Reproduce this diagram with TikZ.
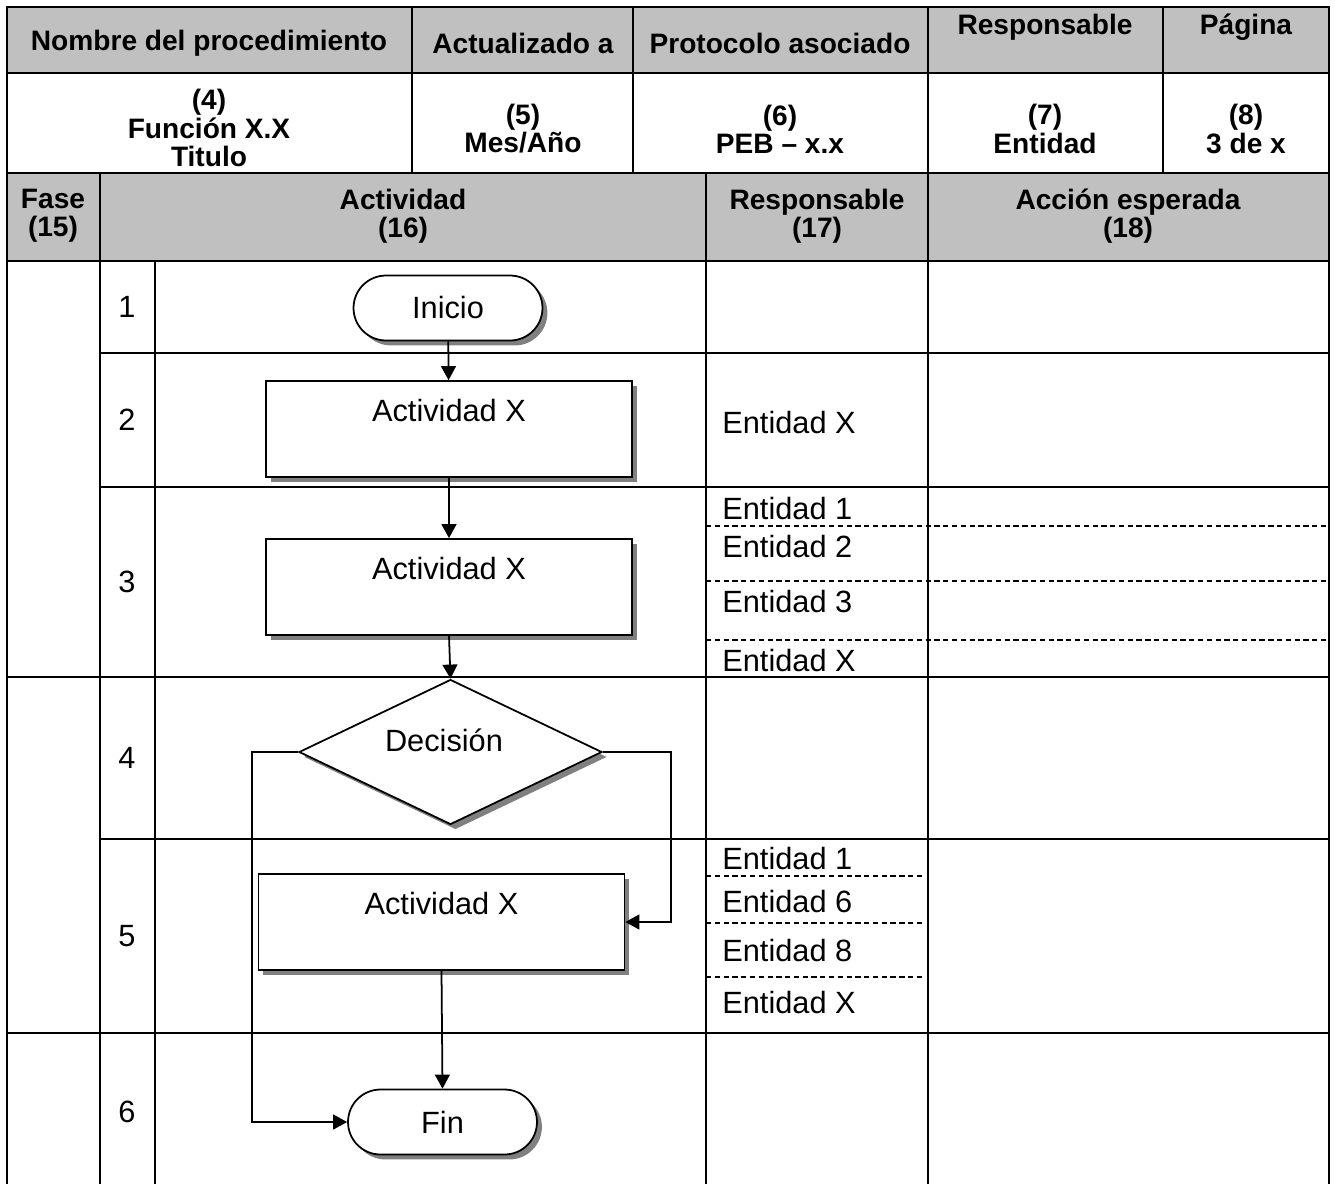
\documentclass[tikz,border=0pt]{standalone}
\usepackage{fontspec}
\setmainfont{Liberation Sans}
\usetikzlibrary{arrows.meta,shapes.geometric,shapes.misc,shadows}
\definecolor{gris}{HTML}{C0C0C0}

\tikzset{
  linea/.style={line width=1.5pt},
  guion/.style={line width=0.8pt, dash pattern=on 3pt off 2pt},
  cab/.style={font=\bfseries\fontsize{16}{16}\selectfont, align=center, inner sep=0pt},
  txt/.style={font=\fontsize{17.5}{20}\selectfont, inner sep=0pt},
  sombra/.style={drop shadow={shadow xshift=2.8pt, shadow yshift=-2.8pt, fill=black!50, opacity=1}},
  caja/.style={draw, line width=1pt, fill=white, minimum width=7.32cm, minimum height=1.92cm, sombra},
  terminal/.style={draw, rounded rectangle, line width=1pt, fill=white, minimum width=3.78cm, minimum height=1.3cm, sombra, txt},
  decision/.style={draw, diamond, line width=1pt, fill=white, minimum width=6.06cm, minimum height=2.9cm, inner sep=0pt, sombra},
  flecha/.style={line width=1pt, -{Triangle[length=8pt, width=8.5pt]}},
}

\begin{document}
\begin{tikzpicture}[x=0.02cm, y=-0.02cm]
			\useasboundingbox (0,0) rectangle (1335,1184);
			%%%%% CABECERA %%%%%
			\fill[gris] (7,7) rectangle (1329,73);
			\fill[gris] (7,173) rectangle (1329,261);
			
			\node[cab] (nombre) at (209,43) {Nombre del procedimiento};
			\node[cab] (actualiz) at (523,43) {Actualizado a};
			\node[cab] (protocolo) at (780,43) {Protocolo asociado};
			\node[cab] (respons) at (1045,27) {Responsable};
			\node[cab] (pagina) at (1246,27) {Página};
			
			\node[cab] (funcion) at (209,128) {(4)\\Función X.X\\Titulo};
			\node[cab] (fecha) at (523,129) {(5)\\Mes/Año};
			\node[cab] (peb) at (780,129) {(6)\\PEB -- x.x};
			\node[cab] (entidad) at (1045,129) {(7)\\Entidad};
			\node[cab] (numpag) at (1246,129) {(8)\\3 de x};
			
			\node[cab] (fase) at (53,216) {Fase\\(15)};
			\node[cab] (activ) at (403,216) {Actividad\\(16)};
			\node[cab] (resp2) at (817,216) {Responsable\\(17)};
			\node[cab] (accion) at (1128,216) {Acción esperada\\(18)};
			
			%%%%% TABLA %%%%%
			\draw[linea] (7,1184) -- (7,7) -- (1329,7) -- (1329,1184);
			\draw[linea] (7,73) -- (1329,73);
			\draw[linea] (7,173) -- (1329,173);
			\draw[linea] (7,261) -- (1329,261);
			\draw[linea] (100,353) -- (1329,353);
			\draw[linea] (100,487) -- (1329,487);
			\draw[linea] (7,677) -- (1329,677);
			\draw[linea] (100,839) -- (1329,839);
			\draw[linea] (7,1033) -- (1329,1033);
			\foreach \x in {412,633,928,1163}
				\draw[linea] (\x,7) -- (\x,173);
			\foreach \x in {100,706,928}
				\draw[linea] (\x,173) -- (\x,1184);
			\draw[linea] (155,261) -- (155,1184);
			
			\draw[guion] (706,526) -- (1329,526);
			\draw[guion] (706,581) -- (1329,581);
			\draw[guion] (706,640) -- (1329,640);
			\draw[guion] (706,876) -- (924,876);
			\draw[guion] (706,923) -- (924,923);
			\draw[guion] (706,977) -- (924,977);
			
			\node[txt] (n1) at (127,307) {1};
			\node[txt] (n2) at (127,420) {2};
			\node[txt] (n3) at (127,582) {3};
			\node[txt] (n4) at (127,758) {4};
			\node[txt] (n5) at (127,936) {5};
			\node[txt] (n6) at (127,1112) {6};
			
			\node[txt, anchor=west] (e2x) at (722,422) {Entidad X};
			\node[txt, anchor=west] (e31) at (722,508) {Entidad 1};
			\node[txt, anchor=west] (e32) at (722,546) {Entidad 2};
			\node[txt, anchor=west] (e33) at (722,601) {Entidad 3};
			\node[txt, anchor=west] (e3x) at (722,660) {Entidad X};
			\node[txt, anchor=west] (e51) at (722,858) {Entidad 1};
			\node[txt, anchor=west] (e56) at (722,901) {Entidad 6};
			\node[txt, anchor=west] (e58) at (722,950) {Entidad 8};
			\node[txt, anchor=west] (e5x) at (722,1002) {Entidad X};
			
			%%%%% DIAGRAMA %%%%%
			\node[terminal] (ini) at (448,308) {Inicio};
			\node[caja] (act1) at (449,429) {};
			\node[txt] at (449,410) {Actividad X};
			\node[caja] (act2) at (449,587) {};
			\node[txt] at (449,568) {Actividad X};
			\node[decision] (dec) at (450.5,752) {};
			\node[txt] at (444,740) {Decisión};
			\node[caja] (act3) at (441.5,922) {};
			\node[txt] at (441.5,903) {Actividad X};
			\node[terminal] (fin) at (442.5,1122) {Fin};
			
			\coordinate (cododer) at (671,752);
			\coordinate (codoizq) at (252,752);
			
			\draw[flecha] (ini) -- (act1);
			\draw[flecha] (act1) -- (act2);
			\draw[flecha] (act2.south) -- (dec.north);
			\draw[flecha] (dec.east) -- (cododer) |- (act3.east);
			\draw[flecha] (dec.west) -- (codoizq) |- (fin.west);
			\draw[flecha] (act3.south) -- (fin.north);
			%%%%% FIN %%%%%
		\end{tikzpicture}
\end{document}
